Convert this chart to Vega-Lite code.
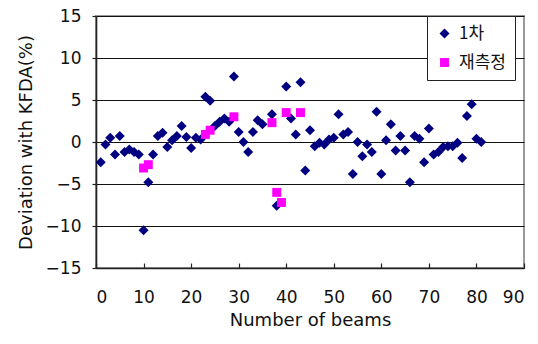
{
  "$schema": "https://vega.github.io/schema/vega-lite/v6.json",
  "width": 428,
  "height": 252,
  "autosize": {"type": "none"},
  "padding": {"left": 96, "top": 16, "right": 14, "bottom": 76},
  "background": "white",
  "config": {
    "view": {"stroke": "#999999", "strokeWidth": 2},
    "font": "DejaVu Sans",
    "axis": {
      "labelFont": "DejaVu Sans",
      "titleFont": "DejaVu Sans",
      "labelFontSize": 17,
      "titleFontSize": 18,
      "labelColor": "#111",
      "titleColor": "#111",
      "titleFontWeight": "normal",
      "domainColor": "#222",
      "domainWidth": 1.6,
      "tickColor": "#222",
      "tickWidth": 1.2
    }
  },
  "data": {
    "values": [
      {"beams": 1, "dev": -2.4, "series": "1차"},
      {"beams": 2, "dev": -0.3, "series": "1차"},
      {"beams": 3, "dev": 0.5, "series": "1차"},
      {"beams": 4, "dev": -1.5, "series": "1차"},
      {"beams": 5, "dev": 0.7, "series": "1차"},
      {"beams": 6, "dev": -1.2, "series": "1차"},
      {"beams": 7, "dev": -0.9, "series": "1차"},
      {"beams": 8, "dev": -1.2, "series": "1차"},
      {"beams": 9, "dev": -1.5, "series": "1차"},
      {"beams": 10, "dev": -10.5, "series": "1차"},
      {"beams": 11, "dev": -4.8, "series": "1차"},
      {"beams": 12, "dev": -1.5, "series": "1차"},
      {"beams": 13, "dev": 0.7, "series": "1차"},
      {"beams": 14, "dev": 1.1, "series": "1차"},
      {"beams": 15, "dev": -0.6, "series": "1차"},
      {"beams": 16, "dev": 0.2, "series": "1차"},
      {"beams": 17, "dev": 0.7, "series": "1차"},
      {"beams": 18, "dev": 1.9, "series": "1차"},
      {"beams": 19, "dev": 0.6, "series": "1차"},
      {"beams": 20, "dev": -0.7, "series": "1차"},
      {"beams": 21, "dev": 0.5, "series": "1차"},
      {"beams": 22, "dev": 0.3, "series": "1차"},
      {"beams": 23, "dev": 5.4, "series": "1차"},
      {"beams": 24, "dev": 4.9, "series": "1차"},
      {"beams": 25, "dev": 1.9, "series": "1차"},
      {"beams": 26, "dev": 2.4, "series": "1차"},
      {"beams": 27, "dev": 2.8, "series": "1차"},
      {"beams": 28, "dev": 2.4, "series": "1차"},
      {"beams": 29, "dev": 7.8, "series": "1차"},
      {"beams": 30, "dev": 1.2, "series": "1차"},
      {"beams": 31, "dev": 0.0, "series": "1차"},
      {"beams": 32, "dev": -1.2, "series": "1차"},
      {"beams": 33, "dev": 1.2, "series": "1차"},
      {"beams": 34, "dev": 2.6, "series": "1차"},
      {"beams": 35, "dev": 2.1, "series": "1차"},
      {"beams": 37, "dev": 3.3, "series": "1차"},
      {"beams": 38, "dev": -7.6, "series": "1차"},
      {"beams": 40, "dev": 6.6, "series": "1차"},
      {"beams": 41, "dev": 2.8, "series": "1차"},
      {"beams": 42, "dev": 0.9, "series": "1차"},
      {"beams": 43, "dev": 7.1, "series": "1차"},
      {"beams": 44, "dev": -3.4, "series": "1차"},
      {"beams": 45, "dev": 1.4, "series": "1차"},
      {"beams": 46, "dev": -0.5, "series": "1차"},
      {"beams": 47, "dev": -0.1, "series": "1차"},
      {"beams": 48, "dev": -0.3, "series": "1차"},
      {"beams": 49, "dev": 0.3, "series": "1차"},
      {"beams": 50, "dev": 0.5, "series": "1차"},
      {"beams": 51, "dev": 3.3, "series": "1차"},
      {"beams": 52, "dev": 0.9, "series": "1차"},
      {"beams": 53, "dev": 1.2, "series": "1차"},
      {"beams": 54, "dev": -3.8, "series": "1차"},
      {"beams": 55, "dev": 0.0, "series": "1차"},
      {"beams": 56, "dev": -1.7, "series": "1차"},
      {"beams": 57, "dev": -0.3, "series": "1차"},
      {"beams": 58, "dev": -1.2, "series": "1차"},
      {"beams": 59, "dev": 3.6, "series": "1차"},
      {"beams": 60, "dev": -3.8, "series": "1차"},
      {"beams": 61, "dev": 0.2, "series": "1차"},
      {"beams": 62, "dev": 2.1, "series": "1차"},
      {"beams": 63, "dev": -1.0, "series": "1차"},
      {"beams": 64, "dev": 0.7, "series": "1차"},
      {"beams": 65, "dev": -1.0, "series": "1차"},
      {"beams": 66, "dev": -4.8, "series": "1차"},
      {"beams": 67, "dev": 0.7, "series": "1차"},
      {"beams": 68, "dev": 0.4, "series": "1차"},
      {"beams": 69, "dev": -2.4, "series": "1차"},
      {"beams": 70, "dev": 1.6, "series": "1차"},
      {"beams": 71, "dev": -1.5, "series": "1차"},
      {"beams": 72, "dev": -1.2, "series": "1차"},
      {"beams": 73, "dev": -0.6, "series": "1차"},
      {"beams": 74, "dev": -0.5, "series": "1차"},
      {"beams": 75, "dev": -0.5, "series": "1차"},
      {"beams": 76, "dev": -0.1, "series": "1차"},
      {"beams": 77, "dev": -1.9, "series": "1차"},
      {"beams": 78, "dev": 3.1, "series": "1차"},
      {"beams": 79, "dev": 4.5, "series": "1차"},
      {"beams": 80, "dev": 0.4, "series": "1차"},
      {"beams": 81, "dev": 0.0, "series": "1차"},
      {"beams": 10, "dev": -3.1, "series": "재측정"},
      {"beams": 11, "dev": -2.7, "series": "재측정"},
      {"beams": 23, "dev": 0.9, "series": "재측정"},
      {"beams": 24, "dev": 1.4, "series": "재측정"},
      {"beams": 29, "dev": 3.0, "series": "재측정"},
      {"beams": 37, "dev": 2.3, "series": "재측정"},
      {"beams": 38, "dev": -6.0, "series": "재측정"},
      {"beams": 39, "dev": -7.2, "series": "재측정"},
      {"beams": 40, "dev": 3.5, "series": "재측정"},
      {"beams": 43, "dev": 3.5, "series": "재측정"}
    ]
  },
  "mark": {"type": "point", "filled": true, "opacity": 1},
  "encoding": {
    "x": {
      "field": "beams",
      "type": "quantitative",
      "scale": {"domain": [0, 90], "nice": false, "zero": false},
      "axis": {
        "title": "Number of beams",
        "values": [0, 10, 20, 30, 40, 50, 60, 70, 80, 90],
        "grid": false,
        "tickSize": -5,
        "labelPadding": 26,
        "titlePadding": 6
      }
    },
    "y": {
      "field": "dev",
      "type": "quantitative",
      "scale": {"domain": [-15, 15], "nice": false},
      "axis": {
        "title": "Deviation with KFDA(%)",
        "values": [-15, -10, -5, 0, 5, 10, 15],
        "grid": true,
        "gridColor": "#111",
        "gridWidth": 1,
        "gridOpacity": 1,
        "tickSize": 4,
        "labelPadding": 11,
        "titlePadding": 10
      }
    },
    "color": {
      "field": "series",
      "type": "nominal",
      "scale": {"domain": ["1차", "재측정"], "range": ["#000080", "#FF00FF"]},
      "legend": {
        "title": null,
        "orient": "none",
        "legendX": 331,
        "legendY": 0,
        "strokeColor": "#222",
        "fillColor": "white",
        "padding": 9,
        "rowPadding": 11,
        "labelFont": "Noto Sans CJK KR",
        "labelFontSize": 17,
        "labelColor": "#111",
        "labelOffset": 6,
        "symbolStrokeWidth": 0
      }
    },
    "shape": {
      "field": "series",
      "type": "nominal",
      "scale": {"domain": ["1차", "재측정"], "range": ["diamond", "square"]}
    },
    "size": {
      "field": "series",
      "type": "nominal",
      "scale": {"domain": ["1차", "재측정"], "range": [100, 80]}
    }
  }
}
